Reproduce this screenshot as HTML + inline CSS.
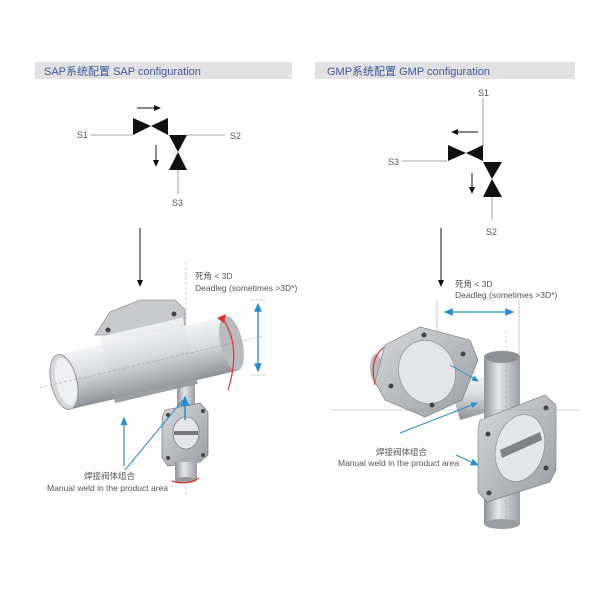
<!DOCTYPE html>
<html><head><meta charset="utf-8"><style>
html,body{margin:0;padding:0;background:#fff;}
svg{display:block;}
text{font-family:"Liberation Sans","Noto Sans CJK SC",sans-serif;}
</style></head><body>
<svg width="600" height="600" viewBox="0 0 600 600" xmlns="http://www.w3.org/2000/svg">
<defs>
<linearGradient id="pv" x1="0" y1="0" x2="0" y2="1">
<stop offset="0" stop-color="#f4f5f7"/><stop offset="0.45" stop-color="#d8dadd"/><stop offset="1" stop-color="#8e9196"/></linearGradient>
<linearGradient id="ph" x1="0" y1="0" x2="1" y2="0">
<stop offset="0" stop-color="#8f9297"/><stop offset="0.4" stop-color="#e6e7ea"/><stop offset="1" stop-color="#9a9da2"/></linearGradient>
<linearGradient id="fl" x1="0" y1="0" x2="1" y2="1">
<stop offset="0" stop-color="#d6d8db"/><stop offset="1" stop-color="#9a9da2"/></linearGradient>
<marker id="ab" markerWidth="8" markerHeight="8" refX="6" refY="4" orient="auto"><path d="M0,1 L7,4 L0,7 Z" fill="#111"/></marker>
<marker id="bl" markerWidth="8" markerHeight="8" refX="6" refY="4" orient="auto-start-reverse"><path d="M0,1 L7,4 L0,7 Z" fill="#2a8fc8"/></marker>
</defs>
<rect x="35" y="62" width="257" height="17" fill="#e2e2e2"/>
<text x="44" y="75" font-size="11" fill="#3d5a9c">SAP系统配置 SAP configuration</text>
<rect x="315" y="62" width="260" height="17" fill="#e2e2e2"/>
<text x="327" y="75" font-size="11" fill="#3d5a9c">GMP系统配置 GMP configuration</text>

<g fill="#111" stroke="none">
<line x1="137" y1="108" x2="160" y2="108" stroke="#111" stroke-width="1" marker-end="url(#ab)"/>
<polygon points="133,118 151,126 133,135"/><polygon points="168,118 151,126 168,135"/>
<polygon points="169,135 187,135 178,152"/><polygon points="169,170 187,170 178,152"/>
<line x1="156" y1="145" x2="156" y2="166" stroke="#111" stroke-width="1" marker-end="url(#ab)"/>
</g>
<g stroke="#888" stroke-width="0.8">
<line x1="91" y1="135" x2="133" y2="135"/><line x1="187" y1="135" x2="225" y2="135"/>
<line x1="178" y1="170" x2="178" y2="194"/></g>
<g font-size="9" fill="#555"><text x="77" y="138">S1</text><text x="230" y="139">S2</text><text x="172" y="206">S3</text></g>

<g stroke="#888" stroke-width="0.8">
<line x1="483" y1="98" x2="483" y2="146"/><line x1="402" y1="161" x2="447" y2="161"/>
<line x1="492" y1="197" x2="492" y2="220"/></g>
<g fill="#111">
<line x1="478" y1="132" x2="452" y2="132" stroke="#111" stroke-width="1" marker-end="url(#ab)"/>
<polygon points="448,145 466,153 448,161"/><polygon points="483,145 466,153 483,161"/>
<polygon points="483,162 502,162 492,179"/><polygon points="483,197 502,197 492,179"/>
<line x1="472" y1="173" x2="472" y2="193" stroke="#111" stroke-width="1" marker-end="url(#ab)"/>
</g>
<g font-size="9" fill="#555"><text x="478" y="96">S1</text><text x="388" y="165">S3</text><text x="486" y="235">S2</text></g>

<line x1="140" y1="228" x2="140" y2="286" stroke="#111" stroke-width="1" marker-end="url(#ab)"/>
<line x1="441" y1="228" x2="441" y2="286" stroke="#111" stroke-width="1" marker-end="url(#ab)"/>

<!-- SAP 3D -->
<g>
<line x1="186" y1="262" x2="186" y2="495" stroke="#aaa" stroke-width="0.6" stroke-dasharray="3,2"/>
<path d="M95,335 L110,312 L140,300 L175,300 L185,310 L185,325 L140,335 Z" fill="#c8cacd" stroke="#777" stroke-width="0.6"/>
<circle cx="108" cy="330" r="2.5" fill="#444"/><circle cx="174" cy="314" r="2.5" fill="#444"/>
<rect x="177" y="380" width="18" height="60" fill="url(#ph)"/>
<g transform="translate(64,382) rotate(-13)">
<rect x="0" y="-28" width="172" height="56" fill="url(#pv)"/>
<rect x="45" y="-36" width="85" height="68" fill="url(#pv)" opacity="0.9"/>
<ellipse cx="172" cy="0" rx="11" ry="28" fill="#b9bbbf"/>
<ellipse cx="0" cy="0" rx="13" ry="28" fill="#d6d8db" stroke="#888" stroke-width="0.8"/>
<ellipse cx="2" cy="0" rx="10" ry="24" fill="#eef0f2"/>
<line x1="-25" y1="0" x2="205" y2="0" stroke="#999" stroke-width="0.5" stroke-dasharray="3,2"/>
</g>
<path d="M165,410 L200,403 L208,412 L208,455 L200,462 L168,466 L162,458 L162,418 Z" fill="url(#fl)" stroke="#666" stroke-width="0.6"/>
<ellipse cx="186" cy="433" rx="13" ry="16" fill="#e3e5e8" stroke="#666" stroke-width="0.6"/>
<rect x="174" y="431" width="24" height="4" fill="#777"/>
<circle cx="168" cy="415" r="2" fill="#444"/><circle cx="203" cy="411" r="2" fill="#444"/><circle cx="168" cy="458" r="2" fill="#444"/><circle cx="203" cy="455" r="2" fill="#444"/>
<rect x="175" y="462" width="22" height="18" fill="url(#ph)"/>
<ellipse cx="186" cy="480" rx="11" ry="3" fill="#999"/>
<path d="M172,481 Q186,486 199,478" stroke="#d33" stroke-width="1.2" fill="none"/>
<path d="M222,318 Q242,345 228,390" stroke="#d33" stroke-width="1.2" fill="none"/>
<polygon points="217,318 226,314 224,323" fill="#d33"/>
<line x1="258" y1="304" x2="258" y2="371" stroke="#2a8fc8" stroke-width="1.3" marker-start="url(#bl)" marker-end="url(#bl)"/>
<line x1="250" y1="300" x2="266" y2="300" stroke="#aaa" stroke-width="0.5"/>
<line x1="250" y1="375" x2="266" y2="375" stroke="#aaa" stroke-width="0.5"/>
<line x1="124" y1="466" x2="124" y2="418" stroke="#2a8fc8" stroke-width="1.2" marker-end="url(#bl)"/>
<line x1="125" y1="470" x2="183" y2="400" stroke="#2a8fc8" stroke-width="1"/>
<line x1="185" y1="420" x2="185" y2="397" stroke="#2a8fc8" stroke-width="1.5" marker-end="url(#bl)"/>
</g>
<g font-size="8.5" fill="#555">
<text x="195" y="279">死角 &lt; 3D</text><text x="195" y="291">Deadleg (sometimes &gt;3D*)</text>
<text x="84" y="479">焊接阀体组合</text><text x="47" y="491">Manual weld in the product area</text>
<text x="376" y="455">焊接阀体组合</text><text x="338" y="466">Manual weld in the product area</text>
<text x="455" y="287">死角 &lt; 3D</text><text x="455" y="298">Deadleg (sometimes &gt;3D*)</text>
</g>

<!-- GMP 3D -->
<g>
<line x1="437" y1="300" x2="437" y2="385" stroke="#999" stroke-width="0.5"/>
<line x1="519" y1="300" x2="519" y2="360" stroke="#999" stroke-width="0.5"/>
<line x1="445" y1="312" x2="513" y2="312" stroke="#2a8fc8" stroke-width="1.3" marker-start="url(#bl)" marker-end="url(#bl)"/>
<path d="M375,355 L395,345 L400,385 L378,382 Z" fill="url(#pv)"/>
<ellipse cx="376" cy="368" rx="6" ry="14" fill="#bbb"/>
<path d="M388,345 Q368,355 375,385" stroke="#d33" stroke-width="1.2" fill="none"/>
<path d="M450,385 L490,375 L495,410 L460,420 Z" fill="url(#pv)"/>
<path d="M385,345 L420,327 L470,340 L478,360 L462,400 L425,417 L385,400 L375,382 Z" fill="url(#fl)" stroke="#777" stroke-width="0.6"/>
<ellipse cx="427" cy="372" rx="28" ry="32" transform="rotate(-20 427 372)" fill="#e3e5e8" stroke="#888" stroke-width="0.6"/>
<circle cx="424" cy="335" r="2.5" fill="#444"/><circle cx="463" cy="354" r="2.5" fill="#444"/><circle cx="391" cy="386" r="2.5" fill="#444"/><circle cx="432" cy="405" r="2.5" fill="#444"/>
<rect x="484" y="356" width="36" height="168" fill="url(#ph)"/>
<ellipse cx="502" cy="357" rx="18" ry="6" fill="#8d9095" stroke="#aaa" stroke-width="0.6"/>
<ellipse cx="502" cy="524" rx="18" ry="5" fill="#9a9da2"/>
<line x1="506" y1="330" x2="506" y2="530" stroke="#999" stroke-width="0.5" stroke-dasharray="3,2"/>
<path d="M480,420 L545,395 L556,405 L556,470 L550,482 L487,502 L478,492 L478,430 Z" fill="url(#fl)" stroke="#777" stroke-width="0.6"/>
<ellipse cx="520" cy="448" rx="24" ry="34" transform="rotate(15 520 448)" fill="#e4e6e9" stroke="#888" stroke-width="0.6"/>
<path d="M500,450 L540,432 L542,440 L502,458 Z" fill="#7f8287"/>
<circle cx="546" cy="408" r="2.5" fill="#444"/><circle cx="488" cy="434" r="2.5" fill="#444"/><circle cx="546" cy="468" r="2.5" fill="#444"/><circle cx="489" cy="493" r="2.5" fill="#444"/>
<line x1="330" y1="410" x2="580" y2="410" stroke="#999" stroke-width="0.4"/>
<line x1="450" y1="365" x2="478" y2="381" stroke="#2a8fc8" stroke-width="1" marker-end="url(#bl)"/>
<line x1="400" y1="433" x2="477" y2="403" stroke="#2a8fc8" stroke-width="1" marker-end="url(#bl)"/>
<line x1="456" y1="455" x2="478" y2="465" stroke="#2a8fc8" stroke-width="1.2" marker-end="url(#bl)"/>
</g>
</svg>
</body></html>
